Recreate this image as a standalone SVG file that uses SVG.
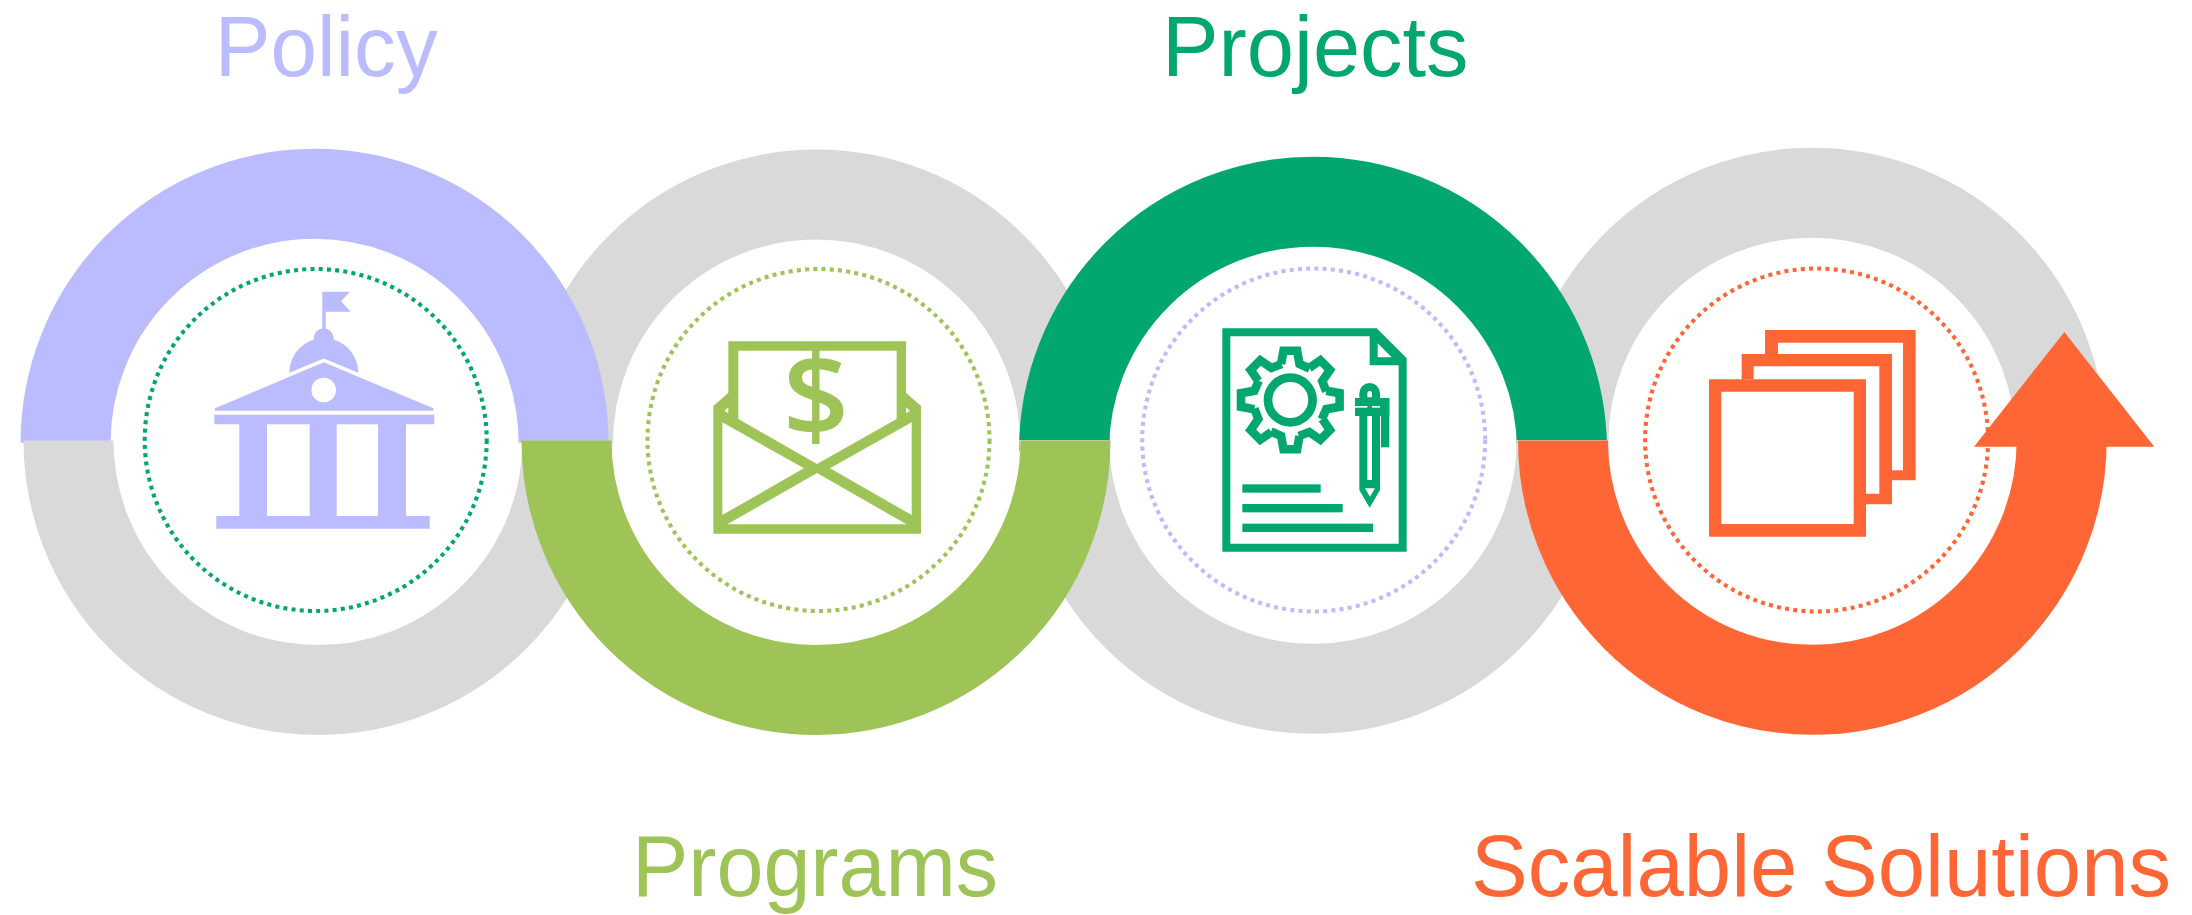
<svg xmlns="http://www.w3.org/2000/svg" width="2192" height="915" viewBox="0 0 2192 915">
<style>
.arc{fill:none;stroke-width:90}
.grey{stroke:#d9d9d9}
.dots{fill:none;stroke-width:4.1;stroke-dasharray:4 4.25}
text{font-family:"Liberation Sans",Arial,sans-serif;font-size:88px}
text.top{font-size:86px}
.pu{fill:#bbbcff}.dg{fill:#02a76f}.lg{fill:#9ec458}.or{fill:#fe6735}
</style>
<defs>
<path id="tooth" d="M-9.2,-36 L-6.8,-49.3 H6.8 L9.2,-36 L19.3,-31.5" fill="none" stroke="#02a76f" stroke-width="8.6"/>
</defs>
<rect width="2192" height="915" fill="#fff"/>
<g id="connectors">
<path class="arc grey" d="M568,443 A248.5,248.5 0 0 1 1065,443"/>
<path class="arc grey" d="M1563.5,441 A248.5,248.5 0 0 1 2060.5,441"/>
<path class="arc" stroke="#bbbcff" d="M65.6,442.7 A249,249 0 0 1 563.6,442.7"/>
<path class="arc" stroke="#02a76f" d="M1064,450.7 A249,249 0 0 1 1562,450.7"/>
<path class="arc grey" d="M68.5,440.5 A249.5,249.5 0 0 0 567.5,440.5"/>
<path class="arc grey" d="M1064.2,440 A248.8,248.8 0 0 0 1561.8,440"/>
<path class="arc" stroke="#9ec458" d="M566.5,440.5 A249.5,249.5 0 0 0 1065.5,440.5"/>
<path class="arc" stroke="#fe6735" d="M1563,440.5 A249.35,249.35 0 0 0 2061.7,440.5"/>
<polygon class="or" points="1974,446.7 2064.3,332 2154.3,446.7"/>
</g>
<g id="policy">
<text class="pu top" x="214.7" y="75.5" textLength="223" lengthAdjust="spacingAndGlyphs">Policy</text>
<circle class="dots" stroke="#02a76f" cx="315.7" cy="440" r="171"/>
<path class="pu" d="M322.3,291.7 H350 L341,301.3 L350.7,311.7 H325.7 V330 H322.3 Z"/>
<circle class="pu" cx="323.7" cy="338.3" r="10"/>
<path class="pu" d="M289.3,372.7 A34.5,34.5 0 0 1 358.3,372.7 L323.7,358.5 Z"/>
<path class="pu" fill-rule="evenodd" d="M323.7,362.3 L433.3,408.3 V410.7 H215 V408.3 Z M336,390 A12.3,12.3 0 1 0 311.4,390 A12.3,12.3 0 1 0 336,390 Z"/>
<path class="pu" d="M214.3,414.7 H434.3 V424.3 H406 V516 H429.7 V528.7 H216.3 V516 H239.3 V424.3 H214.3 Z"/>
<rect x="267" y="424.3" width="42.7" height="91.7" fill="#fff"/>
<rect x="336.7" y="424.3" width="41.3" height="91.7" fill="#fff"/>
</g>
<g id="programs">
<text class="lg" x="632" y="895.7" textLength="366" lengthAdjust="spacingAndGlyphs">Programs</text>
<circle class="dots" stroke="#9ec458" cx="818.5" cy="440" r="171"/>
<g transform="translate(690 320) scale(.33333)">
<path class="lg" fill-rule="evenodd" d="M115,64 H648 V218 L693,258 V641 H70 V258 L115,218 Z M145,92 V297 L381,432 L620,297 V92 Z M97,307 V585 L342,445 Z M665,307 L420,445 L665,585 Z M381,459 L112,613 H650 Z M115,262 L103,272 L115,280 Z M648,262 V280 L660,272 Z"/>
</g>
<text class="lg" x="816" y="437" text-anchor="middle" style="font-family:'Open Sans','Liberation Sans',sans-serif;font-weight:600;font-size:116px">$</text>
</g>
<g id="projects">
<text class="dg top" x="1162" y="75.5" textLength="306.5" lengthAdjust="spacingAndGlyphs">Projects</text>
<circle class="dots" stroke="#bbbcff" cx="1313.7" cy="440" r="171.5"/>
<g transform="translate(1200 310) scale(.33333)">
<path class="dg" fill-rule="evenodd" d="M67,55 H530 L620,145 V725 H67 Z M91,79 V701 H596 V166 H509 V79 Z M533,100 V142 H575 Z"/>
<rect class="dg" x="127" y="523" width="235" height="25"/>
<rect class="dg" x="127" y="582" width="301" height="25"/>
<rect class="dg" x="127" y="641" width="392" height="25"/>
<path class="dg" fill-rule="evenodd" d="M478,540 V250 A31,31 0 0 1 540,250 V540 L509,593 Z M502,318 V510 H516 V318 Z M502,262 H516 V250 A7,7 0 0 0 502,250 Z M495,535 L510,560 L525,535 Z"/>
<rect class="dg" x="465" y="264" width="103" height="54"/>
<rect class="dg" x="543" y="264" width="25" height="148"/>
<rect x="465" y="288" width="37" height="5" fill="#fff"/>
<rect x="516" y="288" width="24" height="5" fill="#fff"/>
</g>
<g transform="translate(1290.3 400)">
<circle cx="0" cy="0" r="22.3" fill="none" stroke="#02a76f" stroke-width="8.7"/>
<use href="#tooth"/><use href="#tooth" transform="rotate(45)"/><use href="#tooth" transform="rotate(90)"/><use href="#tooth" transform="rotate(135)"/><use href="#tooth" transform="rotate(180)"/><use href="#tooth" transform="rotate(225)"/><use href="#tooth" transform="rotate(270)"/><use href="#tooth" transform="rotate(315)"/>
</g>
</g>
<g id="scalable-solutions">
<text class="or" x="1471" y="895.7" textLength="700" lengthAdjust="spacingAndGlyphs">Scalable Solutions</text>
<circle class="dots" stroke="#fe6735" cx="1816.6" cy="440" r="171.5"/>
<g transform="translate(1680 310) scale(.33333)">
<path class="or" fill-rule="evenodd" d="M87,208 H558 V680 H87 Z M124,245 V642 H521 V245 Z"/>
<path class="or" d="M185,208 V132 H636 V583 H558 V551 H598 V169 H221 V208 Z"/>
<path class="or" d="M255,132 V60 H707 V511 H636 V481 H669 V98 H294 V132 Z"/>
</g>
</g>
</svg>
